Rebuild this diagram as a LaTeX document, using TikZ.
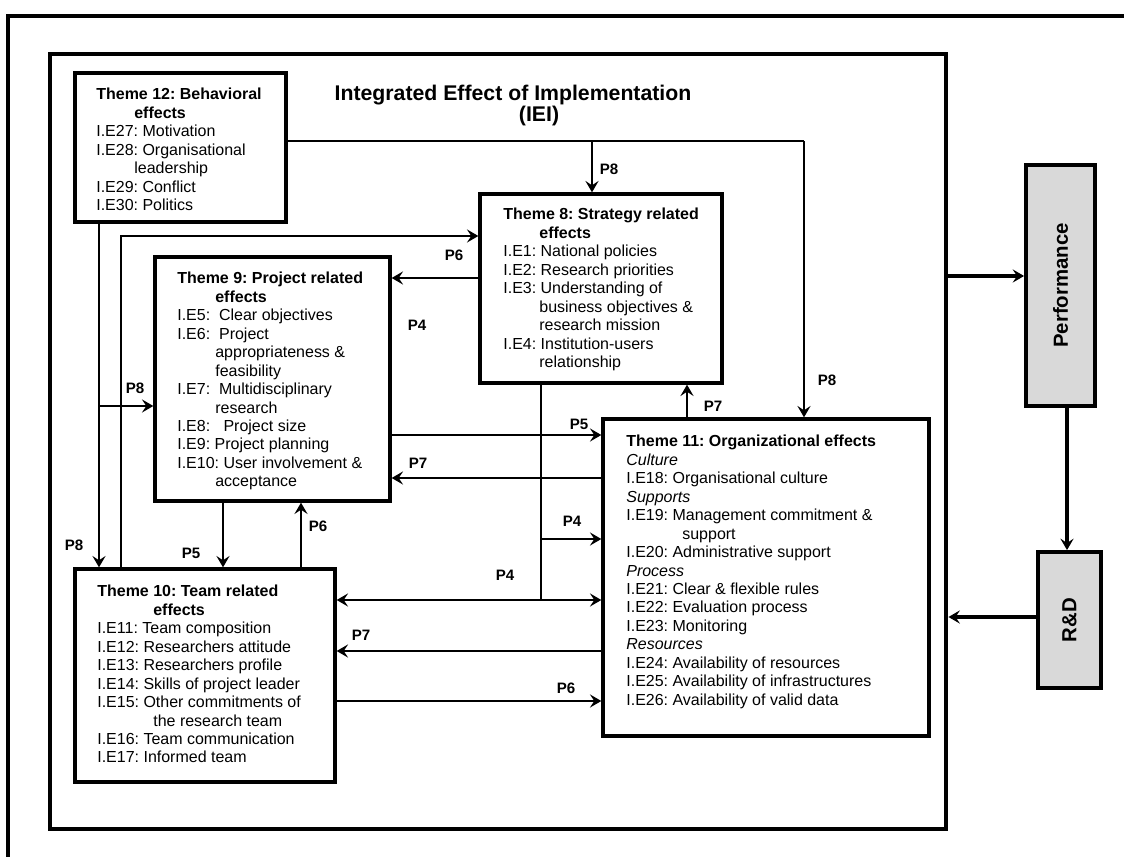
\documentclass[tikz,border=0pt]{standalone}
\usepackage{fontspec}
\setmainfont{Liberation Sans}
\usetikzlibrary{arrows.meta,calc}
\newlength\pxu
\setlength\pxu{0.02cm}
\frenchspacing
\begin{document}
\begin{tikzpicture}[x=0.02cm,y=-0.02cm,
  >={Stealth[length=6.5pt,width=7.5pt,inset=2.5pt]},
  themebox/.style={draw, line width=1.9pt, inner sep=0pt},
  frame/.style={draw, line width=2.8pt, inner sep=0pt},
  graybox/.style={draw, line width=2.2pt, fill=black!15, inner sep=0pt},
  txt/.style={anchor=north west, inner sep=0pt, align=left, font=\fontsize{9.1}{10.5}\selectfont},
  plabel/.style={inner sep=0pt, font=\bfseries\fontsize{8.6}{10}\selectfont},
  sidelabel/.style={inner sep=0pt, rotate=90, font=\bfseries\fontsize{11.6}{13}\selectfont},
  conn/.style={line width=1.1pt},
  thickconn/.style={line width=1.9pt}]
\useasboundingbox (0,0) rectangle (1124,857);
% outer frame (only left and top visible)
\draw[line width=1.8pt] (8,880) -- (8,16) -- (1150,16);
% IEI frame
\node[frame, minimum width=896\pxu, minimum height=775\pxu] (iei) at (498,441.5) {};
\node[inner sep=0pt, align=center, font=\bfseries\fontsize{12.1}{11.6}\selectfont] (title) at (513,105.5)
  {Integrated Effect of Implementation\\\hspace*{52\pxu}(IEI)};
% theme boxes
\node[themebox, minimum width=211\pxu, minimum height=149\pxu] (t12) at (180.5,147.5) {};
\node[themebox, minimum width=242\pxu, minimum height=189\pxu] (t8) at (601,288.5) {};
\node[themebox, minimum width=235\pxu, minimum height=244\pxu] (t9) at (272.5,379) {};
\node[themebox, minimum width=260\pxu, minimum height=213\pxu] (t10) at (205,675.5) {};
\node[themebox, minimum width=326\pxu, minimum height=317\pxu] (t11) at (766,577.5) {};
% side boxes
\node[graybox, minimum width=69\pxu, minimum height=241\pxu] (perf) at (1060.5,285.5) {};
\node[sidelabel] (perflbl) at (perf.center) {Performance};
\node[graybox, minimum width=63\pxu, minimum height=136\pxu] (rd) at (1069.5,620) {};
\node[sidelabel] (rdlbl) at (rd.center) {R\&D};
% texts
\node[txt] (t12txt) at (96,88) {\textbf{Theme 12: Behavioral}\\
\hspace*{38\pxu}\textbf{effects}\\
I.E27: Motivation\\
I.E28: Organisational\\
\hspace*{38\pxu}leadership\\
I.E29: Conflict\\
I.E30: Politics};
\node[txt] (t8txt) at (503,208) {\textbf{Theme 8: Strategy related}\\
\hspace*{36\pxu}\textbf{effects}\\
I.E1: National policies\\
I.E2: Research priorities\\
I.E3: Understanding of\\
\hspace*{36\pxu}business objectives \&\\
\hspace*{36\pxu}research mission\\
I.E4: Institution-users\\
\hspace*{36\pxu}relationship};
\node[txt] (t9txt) at (177,272) {\textbf{Theme 9: Project related}\\
\hspace*{38\pxu}\textbf{effects}\\
I.E5:\ \ Clear objectives\\
I.E6:\ \ Project\\
\hspace*{38\pxu}appropriateness \&\\
\hspace*{38\pxu}feasibility\\
I.E7:\ \ Multidisciplinary\\
\hspace*{38\pxu}research\\
I.E8:\ \ \ Project size\\
I.E9: Project planning\\
I.E10: User involvement \&\\
\hspace*{38\pxu}acceptance};
\node[txt] (t10txt) at (97,585) {\textbf{Theme 10: Team related}\\
\hspace*{56\pxu}\textbf{effects}\\
I.E11: Team composition\\
I.E12: Researchers attitude\\
I.E13: Researchers profile\\
I.E14: Skills of project leader\\
I.E15: Other commitments of\\
\hspace*{56\pxu}the research team\\
I.E16: Team communication\\
I.E17: Informed team};
\node[txt] (t11txt) at (626,435) {\textbf{Theme 11: Organizational effects}\\
\textit{Culture}\\
I.E18: Organisational culture\\
\textit{Supports}\\
I.E19: Management commitment \&\\
\hspace*{56\pxu}support\\
I.E20: Administrative support\\
\textit{Process}\\
I.E21: Clear \& flexible rules\\
I.E22: Evaluation process\\
I.E23: Monitoring\\
\textit{Resources}\\
I.E24: Availability of resources\\
I.E25: Availability of infrastructures\\
I.E26: Availability of valid data};
% junction coordinates
\coordinate (a1) at (592,141);
\coordinate (a2) at (804,141);
\coordinate (b1) at (99,406);
\coordinate (c1) at (121,236);
\coordinate (d1) at (435,278);
\coordinate (e1) at (541,539);
\coordinate (e2) at (541,600);
\coordinate (f1) at (500,435);
\coordinate (g1) at (500,478);
\coordinate (h1) at (687,400);
\coordinate (i1) at (223,535);
\coordinate (i2) at (301,535);
\coordinate (k1) at (470,651);
\coordinate (k2) at (470,701);
\coordinate (m1) at (970,276);
\coordinate (m2) at (1067,480);
\coordinate (m3) at (980,617);
% connectors
\draw[conn] (t12.east |- a1) -- (a2);
\draw[conn,->] (a2) -- (a2 |- t11.north);
\draw[conn,->] (a1) -- (a1 |- t8.north);
\draw[conn] (t12.south -| b1) -- (b1);
\draw[conn,->] (b1) -- (b1 |- t10.north);
\draw[conn,->] (b1) -- (b1 -| t9.west);
\draw[conn,->] (t10.north -| c1) -- (c1) -- (c1 -| t8.west);
\draw[conn,->] (t8.west |- d1) -- (t9.east |- d1);
\draw[conn] (t8.south -| e1) -- (e2);
\draw[conn,->] (e1) -- (e1 -| t11.west);
\draw[conn,<->] (t10.east |- e2) -- (t11.west |- e2);
\draw[conn,->] (t9.east |- f1) -- (t11.west |- f1);
\draw[conn,->] (t11.west |- g1) -- (t9.east |- g1);
\draw[conn,->] (t11.north -| h1) -- (t8.south -| h1);
\draw[conn,->] (t9.south -| i1) -- (t10.north -| i1);
\draw[conn,->] (t10.north -| i2) -- (t9.south -| i2);
\draw[conn,->] (t11.west |- k1) -- (t10.east |- k1);
\draw[conn,->] (t10.east |- k2) -- (t11.west |- k2);
\draw[thickconn,->] (iei.east |- m1) -- (perf.west |- m1);
\draw[thickconn,->] (perf.south -| m2) -- (rd.north -| m2);
\draw[thickconn,->] (rd.west |- m3) -- (iei.east |- m3);
% labels
\node[plabel] (lp8a) at (609,169) {P8};
\node[plabel] (lp6a) at (454,255) {P6};
\node[plabel] (lp4a) at (417,325) {P4};
\node[plabel] (lp8b) at (135,388) {P8};
\node[plabel] (lp8c) at (74,545) {P8};
\node[plabel] (lp5a) at (191,553) {P5};
\node[plabel] (lp6b) at (318,526) {P6};
\node[plabel] (lp7a) at (418,463) {P7};
\node[plabel] (lp5b) at (579,424) {P5};
\node[plabel] (lp4b) at (572,521) {P4};
\node[plabel] (lp4c) at (505,575) {P4};
\node[plabel] (lp7b) at (361,635) {P7};
\node[plabel] (lp6c) at (566,688) {P6};
\node[plabel] (lp7c) at (713,406) {P7};
\node[plabel] (lp8d) at (827,380) {P8};
\end{tikzpicture}
\end{document}
